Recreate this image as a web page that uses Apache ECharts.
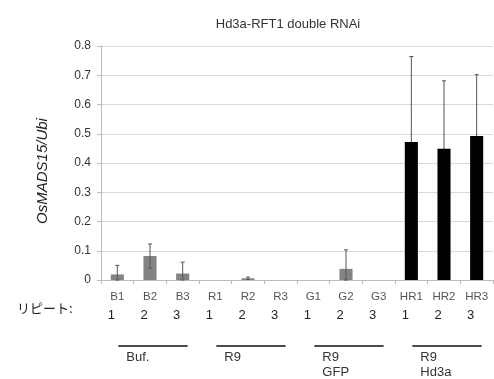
<!DOCTYPE html>
<html>
<head>
<meta charset="utf-8">
<script src="https://cdn.jsdelivr.net/npm/echarts@6/dist/echarts.min.js"></script>
<style>
  html, body { margin: 0; padding: 0; background: #fff; }
  #chart { width: 494px; height: 379px; }
</style>
</head>
<body>
<div id="chart"></div>
<script>
var categories = ['B1', 'B2', 'B3', 'R1', 'R2', 'R3', 'G1', 'G2', 'G3', 'HR1', 'HR2', 'HR3'];
var repeats = ['1', '2', '3', '1', '2', '3', '1', '2', '3', '1', '2', '3'];
var values = [0.019, 0.082, 0.022, 0, 0.006, 0, 0, 0.038, 0, 0.472, 0.449, 0.492];
var errors = [0.031, 0.041, 0.039, 0, 0.004, 0, 0, 0.065, 0, 0.292, 0.232, 0.21];
var groupNames = ['Buf.', 'R9', 'R9\nGFP', 'R9\nHd3a'];
var groupFirst = [0, 3, 6, 9];
var groupLast = [2, 5, 8, 11];
var yTicks = [0, 0.1, 0.2, 0.3, 0.4, 0.5, 0.6, 0.7, 0.8];

var font = 'Liberation Sans, DejaVu Sans, sans-serif';
var myChart = echarts.init(document.getElementById('chart'));

var errData = values.map(function (v, i) {
    return [i, v - errors[i], v + errors[i]];
});

option = {
    backgroundColor: '#ffffff',
    animation: false,
    title: {
        text: 'Hd3a-RFT1 double RNAi',
        left: 283,
        top: 13,
        textAlign: 'center',
        textStyle: { color: '#333', fontSize: 13, fontWeight: 'normal', fontFamily: font }
    },
    grid: { left: 101, right: 1, top: 46, bottom: 99 },
    xAxis: {
        type: 'category',
        data: categories,
        axisLine: { lineStyle: { color: '#bbb' } },
        axisTick: { show: true, length: 4, lineStyle: { color: '#bbb' } },
        axisLabel: {
            interval: 0,
            margin: 8,
            formatter: function (val, idx) {
                return '{a|' + val + '}\n{b|' + repeats[idx] + '}';
            },
            rich: {
                a: { fontSize: 11.5, color: '#555', fontFamily: font, lineHeight: 18 },
                b: { fontSize: 13, color: '#222', fontFamily: font, lineHeight: 18, padding: [0, 12, 0, 0] }
            }
        }
    },
    yAxis: {
        type: 'value',
        min: yTicks[0],
        max: yTicks[yTicks.length - 1],
        interval: 0.1,
        name: 'OsMADS15/Ubi',
        nameLocation: 'middle',
        nameGap: 51,
        nameTextStyle: { fontStyle: 'italic', fontSize: 15, color: '#222', fontFamily: font, padding: [0, 16, 0, 0] },
        axisLine: { show: true, lineStyle: { color: '#bbb' } },
        axisTick: { show: true, length: 4, lineStyle: { color: '#bbb' } },
        axisLabel: {
            color: '#333', fontSize: 12, fontFamily: font, margin: 10,
            formatter: function (v) { return v === 0 ? '0' : v.toFixed(1); }
        },
        splitLine: { lineStyle: { color: '#d9d9d9' } }
    },
    series: [{
        type: 'custom',
        data: errData,
        z: 1,
        renderItem: function (params, api) {
            var x = api.value(0);
            if (api.value(2) <= 0) return;
            var lo = api.coord([x, Math.max(api.value(1), 0)]);
            var hi = api.coord([x, api.value(2)]);
            var c = 2;
            var st = { stroke: '#555', lineWidth: 1 };
            return {
                type: 'group',
                children: [
                    { type: 'line', shape: { x1: hi[0], y1: lo[1], x2: hi[0], y2: hi[1] }, style: st },
                    { type: 'line', shape: { x1: hi[0] - c, y1: hi[1], x2: hi[0] + c, y2: hi[1] }, style: st },
                    { type: 'line', shape: { x1: hi[0] - c, y1: lo[1], x2: hi[0] + c, y2: lo[1] }, style: st }
                ]
            };
        }
    }, {
        type: 'bar',
        data: values,
        barWidth: '40%',
        barGap: '-100%',
        z: 2,
        itemStyle: {
            color: function (p) {
                return categories[p.dataIndex].indexOf('HR') === 0 ? '#000000' : 'rgba(90,90,90,0.75)';
            }
        }
    }]
};
myChart.setOption(option);

// group annotations under the axis
var gfx = [{
    type: 'text',
    left: 17,
    top: 302,
    style: { text: 'リピート:', fontSize: 13, fill: '#222', fontFamily: 'Noto Sans CJK JP' }
}];
for (var g = 0; g < groupNames.length; g++) {
    var x1 = myChart.convertToPixel({ xAxisIndex: 0 }, categories[groupFirst[g]]);
    var x2 = myChart.convertToPixel({ xAxisIndex: 0 }, categories[groupLast[g]]);
    gfx.push({
        type: 'line',
        shape: { x1: x1 + 1, y1: 346, x2: x2 + 5, y2: 346 },
        style: { stroke: '#111', lineWidth: 1.5 }
    });
    gfx.push({
        type: 'text',
        x: x1 + 9,
        y: 350,
        style: { text: groupNames[g], fontSize: 13, fill: '#333', fontFamily: font, lineHeight: 15 }
    });
}
myChart.setOption({ graphic: gfx });

window.addEventListener('resize', function () {
    myChart.resize();
});
</script>
</body>
</html>
